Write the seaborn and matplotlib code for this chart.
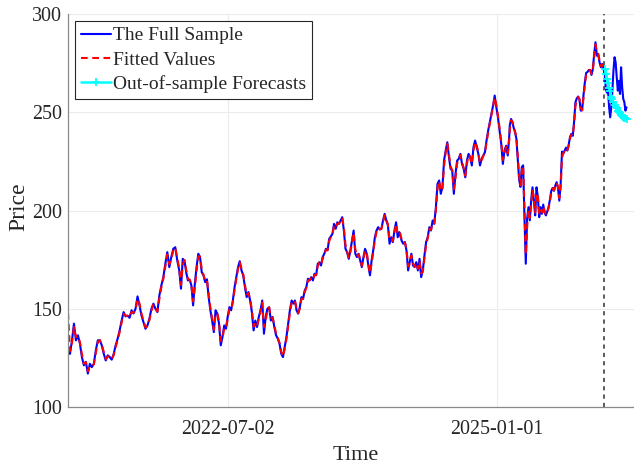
import numpy as np
import pandas as pd
import matplotlib
matplotlib.use("Agg")
import matplotlib.pyplot as plt
import seaborn as sns

# ---------------------------------------------------------------------------
# Price series (roughly weekly observations), in-sample period in five blocks
# ---------------------------------------------------------------------------
price_21 = [129.8, 127.0, 133.9, 142.4, 133.9, 136.5, 132.2, 125.4, 121.2, 123.0,
            117.0, 122.0, 120.3, 122.0, 128.8, 133.9, 134.0, 131.4, 127.1, 123.7,
            126.3, 125.4, 124.1, 127.0, 131.4, 134.8, 139.0, 144.0, 148.3, 146.1,
            146.5, 145.4, 149.2, 147.6, 150.0, 156.3, 151.7, 146.5, 143.2, 139.8,
            141.5, 145.0, 150.0, 152.6, 150.0, 148.3, 156.8, 161.9, 166.1, 172.9,
            178.8, 171.2, 176.3, 180.5, 181.3, 174.6, 169.5]
price_22 = [160.2, 175.4, 174.6, 168.6, 164.4, 164.8, 161.9, 151.7, 162.7, 171.2,
            178.0, 176.3, 168.6, 167.0, 163.5, 165.0, 155.9, 149.2, 144.0, 138.1,
            149.2, 147.5, 142.4, 131.4, 135.6, 141.5, 139.8, 145.8, 150.8, 149.2,
            154.2, 161.0, 166.1, 171.2, 174.2, 169.5, 167.0, 161.0, 155.9, 158.5,
            154.2, 148.3, 139.0, 144.0, 140.7, 145.8, 149.2, 154.2, 137.3, 145.8,
            150.0, 150.8, 144.0, 145.8, 140.7, 136.5, 134.8, 132.2, 127.1, 125.4,
            130.5, 135.6, 142.4, 149.2]
price_23 = [154.2, 152.6, 154.2, 149.2, 147.5, 150.8, 155.9, 155.0, 159.3, 161.0,
            165.3, 164.4, 166.1, 164.4, 167.8, 167.0, 172.9, 173.7, 172.0, 176.3,
            178.0, 180.5, 179.7, 185.6, 186.8, 188.1, 193.2, 190.7, 194.0, 193.2,
            194.9, 196.6, 189.8, 180.5, 178.8, 175.4, 179.7, 184.7, 189.8, 178.0,
            176.3, 178.0, 174.6, 171.2, 176.3, 180.5, 178.0, 172.0, 167.0, 174.6,
            179.7, 186.4, 189.8, 191.5, 190.3, 190.7, 194.9, 198.3, 194.9, 192.4,
            183.1, 186.4, 183.9, 189.8, 194.0, 186.4, 189.0]
price_24 = [188.0, 184.7, 183.1, 184.0, 179.7, 169.5, 173.7, 178.0, 172.0, 171.2,
            173.7, 169.5, 175.4, 166.1, 169.5, 177.1, 183.9, 186.4, 191.5, 189.8,
            194.9, 193.2, 201.7, 213.6, 215.3, 208.5, 211.8, 225.4, 230.5, 234.7,
            227.1, 221.2, 220.3, 208.5, 218.6, 225.4, 226.3, 228.8, 223.7, 221.2,
            216.9, 225.4, 228.8, 227.1, 222.9, 232.2, 235.6, 232.2, 228.8, 222.9,
            226.3, 228.0, 229.6, 235.6, 240.7, 244.9, 249.2, 253.4, 258.5, 252.5,
            247.4, 240.7, 233.9, 223.7, 230.5, 233.0, 228.0, 239.0]
price_25 = [243.0, 246.6, 245.0, 242.0, 239.8, 236.5, 226.0, 216.0, 212.0, 222.0,
            223.0, 196.6, 172.9, 196.0, 201.7, 195.0, 205.1, 211.8, 205.1, 197.5,
            211.8, 206.8, 196.6, 201.7, 198.3, 203.0, 199.0, 197.5, 199.5, 201.7,
            205.5, 210.0, 211.5, 210.0, 212.7, 214.4, 211.5, 205.0, 213.5, 230.0,
            229.0, 230.5, 232.0, 230.5, 233.5, 237.5, 239.0, 238.0, 245.0, 255.0,
            257.0, 258.0, 256.5, 250.8, 251.0, 258.5, 265.0, 270.0, 270.5, 271.5,
            271.5, 269.0, 272.0, 279.7, 285.6, 278.8, 279.7, 275.4, 272.9, 274.6,
            272.0]

# Model fitted values over the in-sample period
fitted_21 = [148.0, 128.5, 132.6, 140.7, 135.6, 136.0, 133.0, 126.8, 122.0, 122.7,
             118.2, 121.0, 120.7, 121.7, 127.5, 132.9, 134.0, 131.9, 128.0, 124.4,
             125.8, 125.6, 124.4, 126.4, 130.5, 134.1, 138.2, 143.0, 147.4, 146.5,
             146.4, 145.6, 148.4, 147.9, 149.5, 155.0, 152.6, 147.5, 143.9, 140.5,
             141.2, 144.3, 149.0, 152.1, 150.5, 148.6, 155.1, 160.9, 165.3, 171.5,
             177.6, 172.7, 175.3, 179.7, 181.1, 175.9, 170.5]
fitted_22 = [162.1, 172.4, 174.8, 169.8, 165.2, 164.7, 162.5, 153.7, 160.5, 169.5,
             176.6, 176.6, 170.1, 167.3, 164.2, 164.7, 157.7, 150.5, 145.0, 139.3,
             147.0, 147.8, 143.4, 133.6, 134.8, 140.3, 140.1, 144.6, 149.8, 149.5,
             153.2, 159.6, 165.1, 170.2, 173.6, 170.4, 167.5, 162.2, 156.9, 158.0,
             155.1, 149.5, 140.9, 143.0, 141.4, 144.8, 148.5, 153.2, 140.7, 144.1,
             149.2, 150.6, 145.4, 145.4, 141.7, 137.3, 135.1, 132.7, 128.1, 125.7,
             129.5, 134.6, 141.0, 147.8]
fitted_23 = [153.2, 152.9, 153.9, 150.2, 147.8, 150.1, 154.9, 155.2, 158.4, 160.7,
             164.4, 164.6, 165.8, 164.7, 167.1, 167.2, 171.7, 173.5, 172.3, 175.4,
             177.7, 180.0, 179.9, 184.4, 186.6, 187.8, 192.2, 191.2, 193.3, 193.4,
             194.6, 196.3, 191.2, 182.4, 179.1, 176.1, 178.8, 183.7, 188.8, 180.4,
             176.6, 177.7, 175.3, 171.9, 175.3, 179.7, 178.5, 173.2, 168.0, 173.1,
             178.7, 185.1, 189.1, 191.2, 190.5, 190.6, 194.1, 197.6, 195.6, 192.9,
             185.0, 185.7, 184.4, 188.6, 193.2, 187.9, 188.5]
fitted_24 = [188.8, 185.4, 183.4, 183.8, 180.6, 171.5, 172.9, 177.1, 173.2, 171.4,
             173.2, 170.3, 174.2, 168.0, 168.8, 175.6, 182.5, 185.9, 190.5, 190.1,
             193.9, 193.5, 200.0, 211.2, 215.0, 209.9, 211.1, 222.7, 229.5, 233.9,
             228.6, 222.4, 220.5, 210.9, 216.6, 224.0, 226.1, 228.3, 224.7, 221.7,
             217.8, 223.7, 228.1, 227.4, 223.7, 230.3, 234.9, 232.9, 229.5, 224.1,
             225.6, 227.7, 229.3, 234.4, 239.7, 244.1, 248.3, 252.6, 257.5, 253.7,
             248.4, 242.0, 235.3, 225.7, 229.1, 232.5, 229.0, 236.8]
fitted_25 = [240.8, 245.9, 245.3, 242.6, 240.2, 237.2, 228.1, 218.0, 212.8, 220.0,
             222.8, 201.9, 177.6, 191.4, 200.6, 196.3, 203.1, 210.5, 206.4, 199.0,
             208.9, 207.8, 198.6, 200.7, 199.0, 202.1, 199.8, 197.8, 199.1, 201.3,
             204.7, 209.1, 211.2, 210.3, 212.2, 214.1, 212.1, 206.3, 211.8, 226.7,
             229.2, 230.2, 231.7, 230.8, 232.9, 236.7, 238.7, 238.2, 243.6, 253.0,
             256.6, 257.8, 256.8, 252.0, 251.0, 257.0, 263.7, 269.0, 270.4, 271.3,
             271.5, 269.5, 271.4, 278.2, 284.4, 280.2, 279.5, 276.3, 273.4, 274.3,
             272.5]

# Hold-out period: realised prices and out-of-sample forecasts
price_oos = [269.5, 261.8, 260.0, 261.8, 252.5, 247.4, 252.5, 261.0, 271.2, 278.0,
             275.4, 267.8, 261.0, 266.0, 259.3, 272.9, 262.7, 256.8, 255.1, 250.8,
             252.5]
forecast_oos = [272.0, 269.5, 267.0, 264.8, 262.3, 261.0, 258.0, 256.5, 255.1, 253.8,
                252.8, 252.0, 250.8, 250.3, 249.4, 248.8, 248.1, 247.4, 247.1, 246.9,
                246.8]

# Calendar span covered by each block
block_spans = [("2021-01-04", "2022-01-17"),
               ("2022-01-23", "2023-01-28"),
               ("2023-02-03", "2024-02-04"),
               ("2024-02-06", "2025-02-12"),
               ("2025-02-13", "2025-12-29")]
oos_span = ("2026-01-02", "2026-03-17")
split_date = "2025-12-31"
tick_dates = ["2022-07-02", "2025-01-01"]

price_blocks = [price_21, price_22, price_23, price_24, price_25]
fitted_blocks = [fitted_21, fitted_22, fitted_23, fitted_24, fitted_25]

in_dates = pd.DatetimeIndex(np.concatenate([
    pd.date_range(a, b, periods=len(v)).values
    for (a, b), v in zip(block_spans, price_blocks)]))
oos_dates = pd.date_range(*oos_span, periods=len(price_oos))

full = pd.DataFrame({
    "Time": in_dates.append(oos_dates),
    "Price": np.concatenate(price_blocks + [price_oos]),
})
fit = pd.DataFrame({"Time": in_dates, "Price": np.concatenate(fitted_blocks)})
fc = pd.DataFrame({"Time": oos_dates, "Price": forecast_oos})

# ---------------------------------------------------------------------------
# Figure
# ---------------------------------------------------------------------------
sns.set_theme(style="white")
plt.rcParams["font.family"] = ["Liberation Serif", "DejaVu Serif"]
plt.rcParams["text.color"] = "#262626"

fig = plt.figure(figsize=(6.34, 4.67), dpi=100)
ax = fig.add_axes([68 / 634, 1 - 407 / 467, (643 - 68) / 634, (407 - 14) / 467])

sns.lineplot(data=full, x="Time", y="Price", ax=ax, color="#0000ff",
             linewidth=1.5, label="The Full Sample")
sns.lineplot(data=fit, x="Time", y="Price", ax=ax, color="#ff0000",
             linewidth=1.5, linestyle=(0, (3.2, 2.2)), label="Fitted Values")
sns.lineplot(data=fc, x="Time", y="Price", ax=ax, color="#00ffff",
             linewidth=1.8, marker="+", markersize=6, markeredgewidth=1.3,
             markeredgecolor="#00ffff", label="Out-of-sample Forecasts")

ax.axvline(pd.Timestamp(split_date), color="#404040", linewidth=1.2,
           linestyle=(0, (2.5, 2.5)), zorder=1)

ax.set_xlim(pd.Timestamp("2021-01-04"), pd.Timestamp("2026-05-12"))
ax.set_ylim(100, 300)
ax.set_yticks([100, 150, 200, 250, 300])
ax.set_xticks(pd.to_datetime(tick_dates))
ax.set_xticklabels(tick_dates)

ax.grid(True, color="#ececec", linewidth=0.8)
ax.set_axisbelow(True)
for side in ("top", "right"):
    ax.spines[side].set_visible(False)
for side in ("left", "bottom"):
    ax.spines[side].set_color("#8a8a8a")
    ax.spines[side].set_linewidth(0.9)

ax.tick_params(axis="both", direction="in", length=4, width=0.7,
               color="#8a8a8a", labelcolor="#262626", labelsize=14.4)
ax.tick_params(axis="x", pad=9)
ax.tick_params(axis="y", pad=4.5)

ax.set_xlabel("Time", fontsize=16, color="#262626")
ax.set_ylabel("Price", fontsize=17, color="#262626")
ax.xaxis.set_label_coords(0.5, -0.099)
ax.yaxis.set_label_coords(-0.068, 0.51)

leg = ax.legend(loc="upper left", bbox_to_anchor=(0.0122, 0.9822),
                borderaxespad=0, fontsize=14, frameon=True, fancybox=False,
                framealpha=1, edgecolor="#262626", handlelength=1.55,
                handletextpad=0.12, labelspacing=0.34, borderpad=0.3)
leg.get_frame().set_linewidth(0.8)

fig.savefig("out.png", dpi=100)
